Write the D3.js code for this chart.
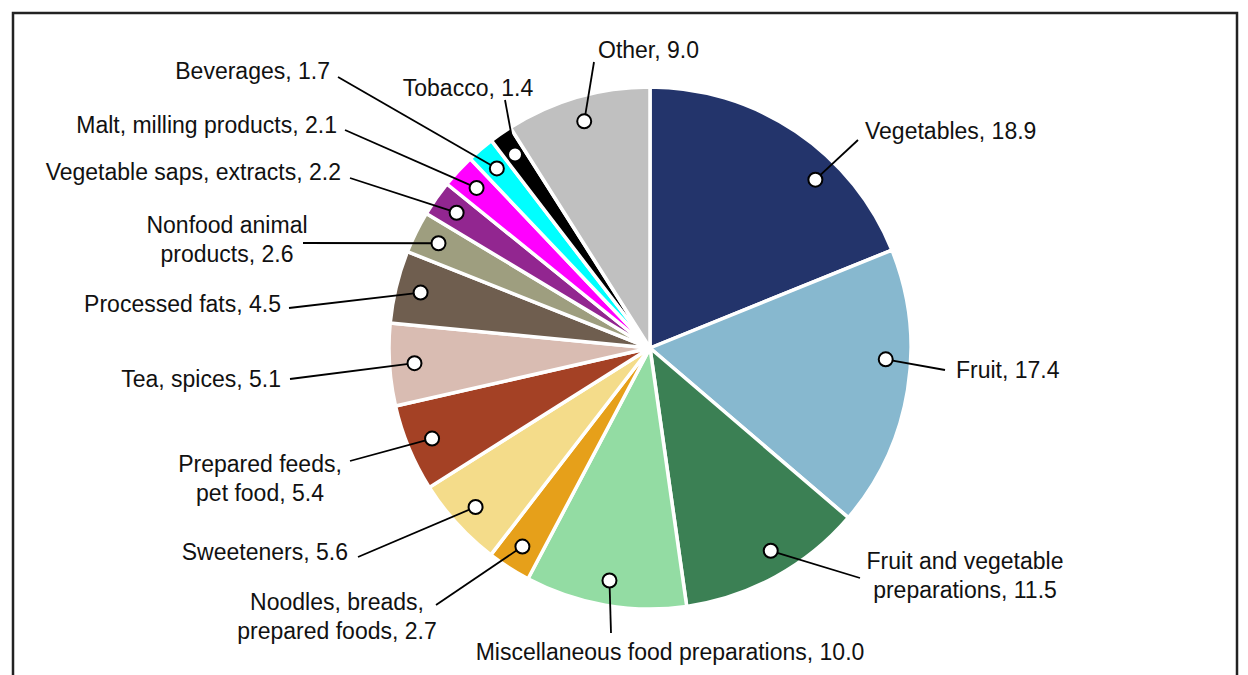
<!DOCTYPE html>
<meta charset="utf-8">
<style>
  body { margin: 0; background: #fff; }
  text { font-family: "Liberation Sans", Arial, sans-serif; font-size: 23px; fill: #111; }
</style>
<svg width="1248" height="675"></svg>
<script src="https://cdn.jsdelivr.net/npm/d3@7"></script>
<script>

var categories = ["Vegetables", "Fruit", "Fruit and vegetable preparations", "Miscellaneous food preparations",
                  "Noodles, breads, prepared foods", "Sweeteners", "Prepared feeds, pet food", "Tea, spices",
                  "Processed fats", "Nonfood animal products", "Vegetable saps, extracts", "Malt, milling products",
                  "Beverages", "Tobacco", "Other"];
var values = [18.9, 17.4, 11.5, 10.0, 2.7, 5.6, 5.4, 5.1, 4.5, 2.6, 2.2, 2.1, 1.7, 1.4, 9.0];
var colors = ["#23346b", "#87b8cf", "#3b8054", "#93dca3", "#e6a01a", "#f4dc8a", "#a44125", "#d9bcb2",
              "#6f5e4f", "#9e9e7f", "#922690", "#ff00ff", "#00ffff", "#000000", "#c0c0c0"];

// label placement: text anchor point, outer end of leader line, line break, dot nudge (deg)
var layout = [
  {x: 865, y: 131, anchor: "start",  lx: 858, ly: 140, shift: 10.5},
  {x: 956, y: 370, anchor: "start",  lx: 945, ly: 370, shift: -6.5},
  {x: 965, y: 561, anchor: "middle", lx: 860, ly: 578, shift: -2, br: "Fruit and vegetable"},
  {x: 670, y: 652, anchor: "middle", lx: 611, ly: 633},
  {x: 337, y: 602, anchor: "middle", lx: 436, ly: 605, br: "Noodles, breads,"},
  {x: 348, y: 552, anchor: "end",    lx: 358, ly: 557},
  {x: 260, y: 464, anchor: "middle", lx: 350, ly: 461, br: "Prepared feeds,"},
  {x: 281, y: 379, anchor: "end",    lx: 290, ly: 379},
  {x: 281, y: 304, anchor: "end",    lx: 289, ly: 308},
  {x: 227, y: 225, anchor: "middle", lx: 303, ly: 243, br: "Nonfood animal"},
  {x: 341, y: 172, anchor: "end",    lx: 350, ly: 178},
  {x: 337, y: 125, anchor: "end",    lx: 345, ly: 130},
  {x: 330, y: 71,  anchor: "end",    lx: 338, ly: 77},
  {x: 468, y: 88,  anchor: "middle", lx: 505, ly: 100},
  {x: 598, y: 50,  anchor: "start",  lx: 594, ly: 62}
];

var svg = d3.select("svg");
var cx = 650, cy = 348, radius = 261, dotR = 236;

// frame
svg.append("rect")
    .attr("x", 13).attr("y", 13)
    .attr("width", 1224).attr("height", 700)
    .attr("fill", "none")
    .attr("stroke", "#222")
    .attr("stroke-width", 2.5);

var data = categories.map(function(c, i) {
  return {name: c, value: values[i], color: colors[i], lay: layout[i]};
});

var pie = d3.pie().sort(null).value(function(d) { return d.value; });
var arcs = pie(data);

var arc = d3.arc().innerRadius(0).outerRadius(radius);

var g = svg.append("g").attr("transform", "translate(" + cx + "," + cy + ")");

g.selectAll("path.slice")
  .data(arcs)
  .join("path")
    .attr("class", "slice")
    .attr("d", arc)
    .attr("fill", function(d) { return d.data.color; })
    .attr("stroke", "#fff")
    .attr("stroke-width", 3.5)
    .attr("stroke-linejoin", "round");

function dotPos(d) {
  var a = (d.startAngle + d.endAngle) / 2 + (d.data.lay.shift || 0) * Math.PI / 180;
  var p = d3.pointRadial(a, dotR);
  return [cx + p[0], cy + p[1]];
}

// leader lines
svg.selectAll("line.leader")
  .data(arcs)
  .join("line")
    .attr("class", "leader")
    .attr("x1", function(d) { return dotPos(d)[0]; })
    .attr("y1", function(d) { return dotPos(d)[1]; })
    .attr("x2", function(d) { return d.data.lay.lx; })
    .attr("y2", function(d) { return d.data.lay.ly; })
    .attr("stroke", "#000")
    .attr("stroke-width", 1.8);

// dots
svg.selectAll("circle.dot")
  .data(arcs)
  .join("circle")
    .attr("class", "dot")
    .attr("cx", function(d) { return dotPos(d)[0]; })
    .attr("cy", function(d) { return dotPos(d)[1]; })
    .attr("r", 7)
    .attr("fill", "#fff")
    .attr("stroke", "#000")
    .attr("stroke-width", 2);

// labels
var labels = svg.selectAll("text.label")
  .data(arcs)
  .join("text")
    .attr("class", "label")
    .attr("text-anchor", function(d) { return d.data.lay.anchor; });

labels.each(function(d) {
  var full = d.data.name + ", " + d.data.value.toFixed(1);
  var L = d.data.lay;
  var lines = L.br ? [L.br, full.slice(L.br.length).trim()] : [full];
  d3.select(this).selectAll("tspan")
    .data(lines)
    .join("tspan")
      .attr("x", L.x)
      .attr("y", function(t, i) { return L.y + i * 29; })
      .attr("dy", "0.35em")
      .text(function(t) { return t; });
});

</script>
